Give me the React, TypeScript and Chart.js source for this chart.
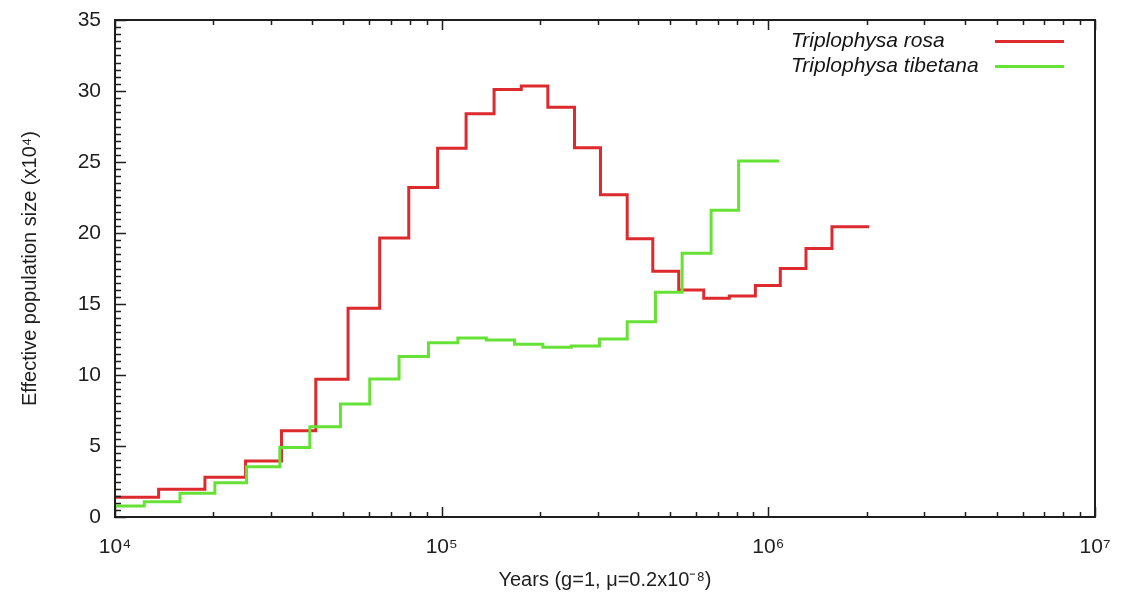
import React, { useEffect, useRef } from "react";
import { Chart, registerables } from "chart.js";

Chart.register(...registerables);

const FONT = "'Liberation Sans', Arial, Helvetica, sans-serif";

// Step boundaries (years) and effective population size levels (x10^4)
const redYears = [10000, 13600, 18850, 25100, 32340, 41180, 51700, 64600, 79300, 97200, 118800, 144700, 175300, 211400, 255100, 306300, 369800, 442900, 531800, 634300, 759800, 912700, 1088000, 1304000, 1566000, 2037000];
const redNe = [1.39, 1.95, 2.8, 3.94, 6.08, 9.7, 14.7, 19.65, 23.2, 25.96, 28.4, 30.1, 30.35, 28.85, 26.0, 22.7, 19.6, 17.3, 15.98, 15.4, 15.56, 16.3, 17.5, 18.9, 20.44];

const greenYears = [10000, 12290, 15810, 20220, 25280, 31960, 39480, 49000, 60230, 74050, 91110, 112100, 136990, 167200, 204100, 249300, 304200, 369800, 451300, 544600, 668100, 811100, 1080000];
const greenNe = [0.77, 1.08, 1.67, 2.42, 3.54, 4.9, 6.36, 7.96, 9.72, 11.3, 12.27, 12.6, 12.46, 12.16, 11.95, 12.04, 12.53, 13.75, 15.82, 18.57, 21.6, 25.07];

const seriesNames = ["Triplophysa rosa", "Triplophysa tibetana"];
const seriesColors = ["#dc2a2e", "#66e236"];

const xTickValues = [10000, 100000, 1000000, 10000000];
const xTickLabels = ["10\u2074", "10\u2075", "10\u2076", "10\u2077"];
const yMax = 35;
const yStep = 5;

const xTitle = "Years (g=1, \u03bc=0.2x10\u207b\u2078)";
const yTitle = "Effective population size (x10\u2074)";

function toSteps(years: number[], ne: number[]) {
  return years.map((x, i) => ({ x, y: ne[Math.min(i, ne.length - 1)] }));
}

const framePlugin = {
  id: "gnuplotFrame",
  afterDatasetsDraw(chart: any) {
    const { ctx, chartArea: a, scales } = chart;
    const xs = scales.x;
    const ys = scales.y;
    ctx.save();
    ctx.strokeStyle = "#1e1e1e";
    ctx.lineWidth = 1.5;
    ctx.beginPath();
    // y ticks (left, inward)
    for (let v = 0; v <= yMax + 1e-6; v += 0.5) {
      const py = Math.round(ys.getPixelForValue(v)) + 0.5;
      const major = Math.abs(v % yStep) < 1e-6;
      const len = major ? 11 : 6;
      ctx.moveTo(a.left, py);
      ctx.lineTo(a.left + len, py);
    }
    // x ticks (top and bottom, inward)
    for (let d = 0; d < xTickValues.length; d++) {
      const base = xTickValues[d];
      const px = Math.round(xs.getPixelForValue(base)) + 0.5;
      ctx.moveTo(px, a.bottom);
      ctx.lineTo(px, a.bottom - 10);
      ctx.moveTo(px, a.top);
      ctx.lineTo(px, a.top + 10);
      if (d < xTickValues.length - 1) {
        for (let m = 2; m <= 9; m++) {
          const mx = Math.round(xs.getPixelForValue(base * m)) + 0.5;
          ctx.moveTo(mx, a.bottom);
          ctx.lineTo(mx, a.bottom - 5);
          ctx.moveTo(mx, a.top);
          ctx.lineTo(mx, a.top + 5);
        }
      }
    }
    ctx.stroke();
    // frame
    ctx.lineWidth = 2;
    ctx.strokeStyle = "#1e1e1e";
    ctx.strokeRect(a.left, a.top, a.right - a.left, a.bottom - a.top);

    // legend (gnuplot style: text then line sample)
    const ds = chart.data.datasets;
    ctx.font = `italic 21px ${FONT}`;
    ctx.textBaseline = "middle";
    ctx.textAlign = "left";
    for (let i = 0; i < ds.length; i++) {
      const yy = a.top + 21 + i * 25;
      ctx.fillStyle = "#151515";
      ctx.fillText(ds[i].label, a.left + 676, yy);
      ctx.strokeStyle = ds[i].borderColor;
      ctx.lineWidth = 3;
      ctx.beginPath();
      ctx.moveTo(a.left + 880, yy + 0.5);
      ctx.lineTo(a.left + 949, yy + 0.5);
      ctx.stroke();
    }
    ctx.restore();
  },
};

export default function App() {
  const canvasRef = useRef<HTMLCanvasElement | null>(null);

  useEffect(() => {
    if (!canvasRef.current) return;
    const chart = new Chart(canvasRef.current, {
      type: "line",
      data: {
        datasets: [
          {
            label: seriesNames[0],
            data: toSteps(redYears, redNe),
            borderColor: seriesColors[0],
            backgroundColor: seriesColors[0],
            borderWidth: 3,
            pointRadius: 0,
            stepped: "before",
            fill: false,
            order: 1,
          },
          {
            label: seriesNames[1],
            data: toSteps(greenYears, greenNe),
            borderColor: seriesColors[1],
            backgroundColor: seriesColors[1],
            borderWidth: 3,
            pointRadius: 0,
            stepped: "before",
            fill: false,
            order: 0,
          },
        ],
      },
      options: {
        animation: false,
        responsive: true,
        maintainAspectRatio: false,
        layout: { padding: { left: 0, right: 26, top: 20, bottom: 0 } },
        plugins: {
          legend: { display: false },
          tooltip: { enabled: false },
        },
        scales: {
          x: {
            type: "logarithmic",
            position: "bottom",
            min: 10000,
            max: 10000000,
            grid: { display: false, drawTicks: false },
            border: { display: false },
            afterBuildTicks: (s: any) => {
              s.ticks = xTickValues.map((v) => ({ value: v }));
            },
            afterFit: (s: any) => {
              s.height = 89;
              s.paddingLeft = 0;
              s.paddingRight = 0;
              s.paddingTop = 0;
              s.paddingBottom = 0;
            },
            ticks: {
              autoSkip: false,
              maxRotation: 0,
              padding: 18,
              color: "#1e1e1e",
              font: { family: FONT, size: 21 },
              callback: (_v: any, i: number) => xTickLabels[i],
            },
            title: {
              display: true,
              text: xTitle,
              color: "#1e1e1e",
              font: { family: FONT, size: 20 },
              padding: { top: 0, bottom: 14 },
            },
          },
          y: {
            type: "linear",
            min: 0,
            max: yMax,
            grid: { display: false, drawTicks: false },
            border: { display: false },
            afterFit: (s: any) => {
              s.width = 115;
              s.paddingLeft = 0;
              s.paddingRight = 0;
              s.paddingTop = 0;
              s.paddingBottom = 0;
            },
            ticks: {
              stepSize: yStep,
              padding: 14,
              color: "#1e1e1e",
              font: { family: FONT, size: 21 },
            },
            title: {
              display: true,
              text: yTitle,
              color: "#1e1e1e",
              font: { family: FONT, size: 20 },
              padding: { top: 18, bottom: 0 },
            },
          },
        },
      },
      plugins: [framePlugin],
    } as any);
    return () => chart.destroy();
  }, []);

  return (
    <div style={{ position: "fixed", left: 0, top: 0, width: 1121, height: 606, background: "#fff" }}>
      <canvas ref={canvasRef} />
    </div>
  );
}
